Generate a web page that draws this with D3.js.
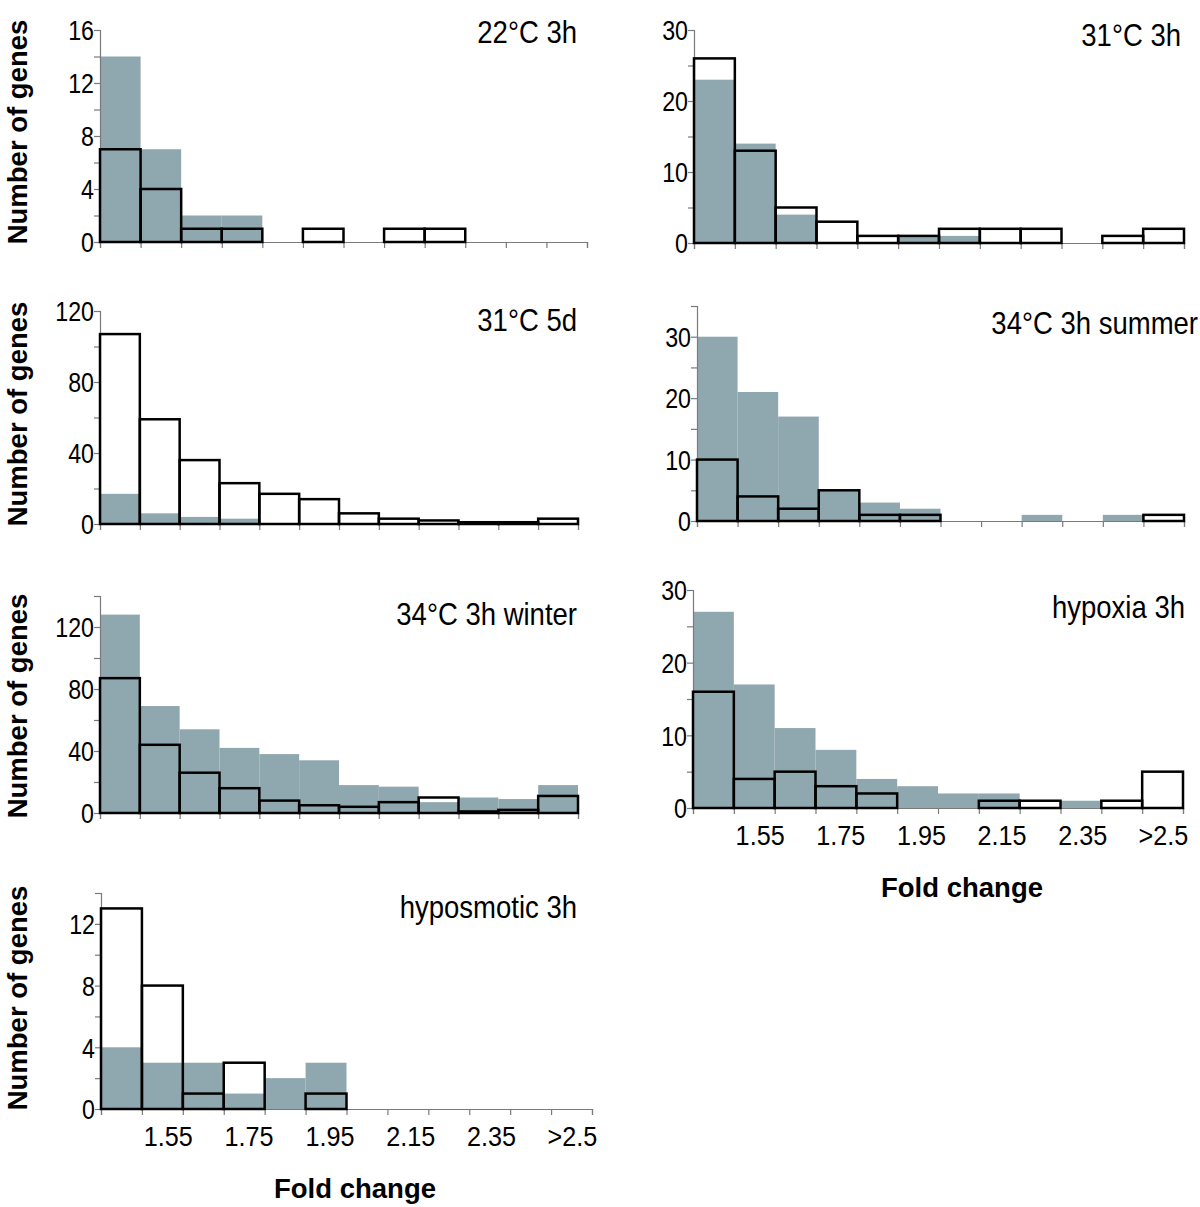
<!DOCTYPE html>
<html>
<head>
<meta charset="utf-8">
<script src="https://cdn.jsdelivr.net/npm/d3@7"></script>
<style>
  html, body { margin: 0; padding: 0; background: #fff; }
  svg { display: block; }
  text { font-family: "Liberation Sans", Arial, sans-serif; fill: #000; }
</style>
</head>
<body>
<script>
// ---------- data ----------
const bins = ["1.45","1.55","1.65","1.75","1.85","1.95","2.05","2.15","2.25","2.35","2.45",">2.5"];
const xTickLabels = ["1.55","1.75","1.95","2.15","2.35",">2.5"];

const titles = ["22°C 3h","31°C 3h","31°C 5d","34°C 3h summer","34°C 3h winter","hypoxia 3h","hyposmotic 3h"];

// filled (grey) series per panel
const grey22_3h   = [14,7,2,2,0,0,0,0,0,0,0,0];
const grey31_3h   = [23,14,4,0,0,1,1,0,0,0,0,0];
const grey31_5d   = [17,6,4,3,0,0,0,0,0,0,0,0];
const grey34sum   = [30,21,17,5,3,2,0,0,1,0,1,0];
const grey34win   = [128,69,54,42,38,34,18,17,7,10,9,18];
const greyHypox   = [27,17,11,8,4,3,2,2,0,1,0,0];
const greyHypos   = [4,3,3,1,2,3,0,0,0,0,0,0];

// open (outlined) series per panel
const open22_3h   = [7,4,1,1,0,1,0,1,1,0,0,0];
const open31_3h   = [26,13,5,3,1,1,2,2,2,0,1,2];
const open31_5d   = [107,59,36,23,17,14,6,3,2,1,1,3];
const open34sum   = [10,4,2,5,1,1,0,0,0,0,0,1];
const open34win   = [87,44,26,16,8,5,4,7,10,1,2,11];
const openHypox   = [16,4,5,3,2,0,0,1,1,0,1,5];
const openHypos   = [13,8,1,3,0,1,0,0,0,0,0,0];

// y axis: max, minor step, labelled ticks
const yMaxes  = [16, 30, 120, 35, 140, 30, 14];
const ySteps  = [2, 5, 20, 5, 20, 5, 2];
const yLabels = [[0,4,8,12,16],[0,10,20,30],[0,40,80,120],[0,10,20,30],[0,40,80,120],[0,10,20,30],[0,4,8,12]];

const greys = [grey22_3h, grey31_3h, grey31_5d, grey34sum, grey34win, greyHypox, greyHypos];
const opens = [open22_3h, open31_3h, open31_5d, open34sum, open34win, openHypox, openHypos];

// ---------- layout ----------
const layout = [
  {x0:100, x1:587,  y0:242,  yTop:30,  titleX:577,  titleY:43,  yTitleY:132},
  {x0:694, x1:1184, y0:243,  yTop:30,  titleX:1181, titleY:46},
  {x0:100, x1:578,  y0:524,  yTop:311, titleX:577,  titleY:331, yTitleY:414},
  {x0:697, x1:1184, y0:521,  yTop:306, titleX:1198, titleY:334},
  {x0:100, x1:578,  y0:813,  yTop:596, titleX:577,  titleY:625, yTitleY:706},
  {x0:693, x1:1183, y0:808,  yTop:590, titleX:1185, titleY:618, xLabels:true, xTitleX:962},
  {x0:101, x1:592,  y0:1109, yTop:893, titleX:577,  titleY:918, yTitleY:998, xLabels:true, xTitleX:355}
];

const W = 1200, H = 1207;
const greyFill = "#8fa7ae";
const axisCol = "#7a7a7a";
const tickFont = 27;
const squeeze = 0.86;

const svg = d3.select("body").append("svg").attr("width", W).attr("height", H);

layout.forEach((L, i) => {
  const g = svg.append("g");
  const x = d3.scaleBand().domain(bins).range([L.x0, L.x1]).padding(0);
  const y = d3.scaleLinear().domain([0, yMaxes[i]]).range([L.y0, L.yTop]);

  const gd = bins.map((b, k) => ({bin: b, v: greys[i][k]}));
  const od = bins.map((b, k) => ({bin: b, v: opens[i][k]}));

  // grey bars
  g.selectAll("rect.grey").data(gd.filter(d => d.v > 0)).join("rect")
    .attr("class", "grey")
    .attr("x", d => x(d.bin)).attr("width", x.bandwidth())
    .attr("y", d => y(d.v)).attr("height", d => y(0) - y(d.v))
    .attr("fill", greyFill);

  // y axis
  const yTicks = d3.range(0, yMaxes[i] + 0.001, ySteps[i]);
  const yAxis = d3.axisLeft(y).tickValues(yTicks).tickSize(6)
    .tickFormat(v => yLabels[i].includes(v) ? String(v) : "");
  const ya = g.append("g").attr("transform", `translate(${L.x0},0)`).call(yAxis);
  ya.attr("font-size", tickFont).attr("font-family", "'Liberation Sans', Arial, sans-serif");
  ya.select(".domain").attr("stroke", axisCol).attr("stroke-width", 1.2);
  ya.selectAll(".tick line").attr("stroke", axisCol).attr("stroke-width", 1.2);
  ya.selectAll(".tick text").attr("x", -7).attr("dy", "0.36em").attr("fill", "#000")
    .attr("transform", `scale(${squeeze},1)`);

  // x axis (ticks at bin boundaries)
  const xb = d3.scaleLinear().domain([0, bins.length]).range([L.x0, L.x1]);
  const xAxis = d3.axisBottom(xb).tickValues(d3.range(0, bins.length + 1)).tickSize(6).tickFormat("");
  const xa = g.append("g").attr("transform", `translate(0,${L.y0})`).call(xAxis);
  xa.select(".domain").attr("stroke", axisCol).attr("stroke-width", 1.2);
  xa.selectAll(".tick line").attr("stroke", axisCol).attr("stroke-width", 1.2);

  // open (outlined) bars
  g.selectAll("rect.open").data(od.filter(d => d.v > 0)).join("rect")
    .attr("class", "open")
    .attr("x", d => x(d.bin)).attr("width", x.bandwidth())
    .attr("y", d => y(d.v)).attr("height", d => y(0) - y(d.v))
    .attr("fill", "none").attr("stroke", "#000").attr("stroke-width", 2.5);

  // x tick labels
  if (L.xLabels) {
    const w = L.x1 - L.x0;
    const xl = d3.scalePoint().domain(xTickLabels).range([L.x0 + 0.137 * w, L.x1 - 0.04 * w]);
    g.selectAll("text.xl").data(xTickLabels).join("text")
      .attr("class", "xl")
      .attr("transform", d => `translate(${xl(d)},${L.y0 + 37}) scale(0.9,1)`)
      .attr("text-anchor", "middle").attr("font-size", 28).text(d => d);
    g.append("text").attr("x", L.xTitleX).attr("y", L.y0 + 89)
      .attr("text-anchor", "middle").attr("font-size", 27.5).attr("font-weight", "bold")
      .text("Fold change");
  }

  // panel title
  g.append("text")
    .attr("transform", `translate(${L.titleX},${L.titleY}) scale(${squeeze},1)`)
    .attr("text-anchor", "end").attr("font-size", 32).text(titles[i]);

  // y title
  if (L.yTitleY) {
    g.append("text").attr("transform", `translate(27,${L.yTitleY}) rotate(-90)`)
      .attr("text-anchor", "middle").attr("font-size", 27.5).attr("font-weight", "bold")
      .text("Number of genes");
  }
});
</script>
</body>
</html>
